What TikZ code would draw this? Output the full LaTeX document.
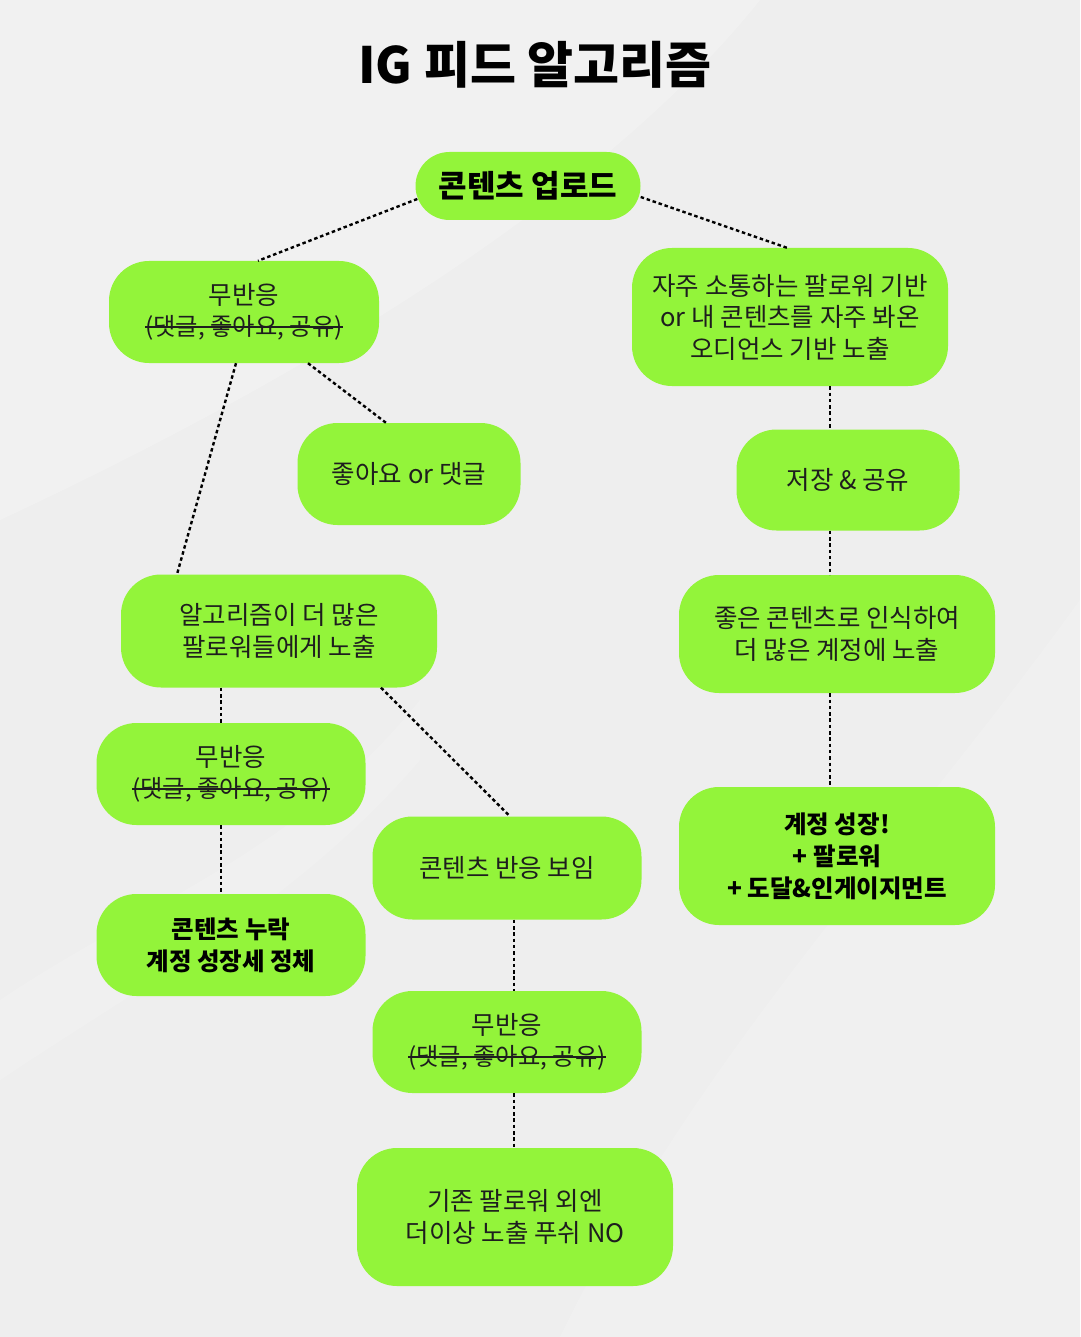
\documentclass[tikz,border=0pt]{standalone}
\usepackage{fontspec}
\setmainfont{Noto Sans CJK KR}
\usetikzlibrary{calc}
\definecolor{lime}{HTML}{93F43A}
\definecolor{bg}{HTML}{EEEEEE}
\definecolor{txt}{HTML}{1E1E1E}
\newcommand{\mystrike}[1]{{\fontsize{24.3}{31.5}\selectfont\setbox0\hbox{#1}\rlap{\rule[0.33em]{\wd0}{0.075em}}\box0}}
\tikzset{
  box/.style={draw=none, fill=lime, rounded corners=40pt, align=center, text=txt,
    font=\fontsize{25.5}{31.5}\selectfont, inner sep=0pt},
  boldbox/.style={box, text=black, font=\fontsize{24.5}{32}\selectfont\bfseries},
  link/.style={draw=black, line width=2.4pt, dash pattern=on 3.5pt off 2.8pt},
}
\begin{document}
\begin{tikzpicture}[x=1pt,y=-1pt]
\useasboundingbox (0,0) rectangle (1080,1337);
\fill[bg] (0,0) rectangle (1080,1337);
% subtle background swooshes
\fill[white, opacity=0.22] (0,0) -- (760,0) .. controls (600,200) and (300,380) .. (0,520) -- cycle;
\fill[white, opacity=0.16] (1080,600) .. controls (900,850) and (700,1050) .. (560,1337) -- (1080,1337) -- cycle;
\fill[white, opacity=0.14] (0,1000) .. controls (150,900) and (300,850) .. (420,700) -- (420,760) .. controls (300,900) and (150,980) .. (0,1080) -- cycle;

\node[font=\fontsize{50}{56}\selectfont\bfseries, text=black] (title) at (535,65) {IG 피드 알고리즘};

\node[boldbox, rounded corners=34pt, minimum width=225pt, minimum height=68pt,
  font=\fontsize{31}{36}\selectfont\bfseries] (up) at (528,186) {콘텐츠 업로드};

\node[box, minimum width=270pt, minimum height=102pt] (nr1) at (244,312)
  {무반응\\\mystrike{(댓글, 좋아요, 공유)}};
\node[box, minimum width=316pt, minimum height=138pt] (r1) at (790,317)
  {자주 소통하는 팔로워 기반\\or 내 콘텐츠를 자주 봐온\\오디언스 기반 노출};
\node[box, minimum width=223pt, minimum height=102pt] (like) at (409,474) {좋아요 or 댓글};
\node[box, minimum width=223pt, minimum height=101pt] (save) at (848,480) {저장 \& 공유};
\node[box, minimum width=316pt, minimum height=113pt] (alg) at (279,631)
  {알고리즘이 더 많은\\팔로워들에게 노출};
\node[box, minimum width=316pt, minimum height=118pt] (good) at (837,634)
  {좋은 콘텐츠로 인식하여\\더 많은 계정에 노출};
\node[box, minimum width=269pt, minimum height=102pt] (nr2) at (231,774)
  {무반응\\\mystrike{(댓글, 좋아요, 공유)}};
\node[box, minimum width=269pt, minimum height=103pt] (react) at (507,868) {콘텐츠 반응 보임};
\node[boldbox, minimum width=316pt, minimum height=138pt] (grow) at (837,856)
  {계정 성장!\\+ 팔로워\\+ 도달\&인게이지먼트};
\node[boldbox, minimum width=269pt, minimum height=102pt] (miss) at (231,945)
  {콘텐츠 누락\\계정 성장세 정체};
\node[box, minimum width=269pt, minimum height=102pt] (nr3) at (507,1042)
  {무반응\\\mystrike{(댓글, 좋아요, 공유)}};
\node[box, minimum width=316pt, minimum height=138pt] (base) at (515,1217)
  {기존 팔로워 외엔\\더이상 노출 푸쉬 NO};

\draw[link] ([xshift=2pt,yshift=-13pt]up.west) -- ([xshift=14pt]nr1.north);
\draw[link] ([yshift=-11pt]up.east) -- ([xshift=-3pt]r1.north);
\draw[link] ([xshift=-8pt]nr1.south) -- ([xshift=-102pt]alg.north);
\draw[link] ([xshift=64pt]nr1.south) -- ([xshift=-23pt]like.north);
\draw[link] ([xshift=40pt]r1.south) -- ([xshift=-18pt]save.north);
\draw[link] ([xshift=-18pt]save.south) -- ([xshift=-7pt]good.north);
\draw[link] ([xshift=-7pt]good.south) -- ([xshift=-7pt]grow.north);
\draw[link] ([xshift=-58pt]alg.south) -- ([xshift=-10pt]nr2.north);
\draw[link] ([xshift=102pt]alg.south) -- ([xshift=3pt]react.north);
\draw[link] ([xshift=-10pt]nr2.south) -- ([xshift=-10pt]miss.north);
\draw[link] ([xshift=7pt]react.south) -- ([xshift=7pt]nr3.north);
\draw[link] ([xshift=7pt]nr3.south) -- ([xshift=-1pt]base.north);
\end{tikzpicture}
\end{document}
